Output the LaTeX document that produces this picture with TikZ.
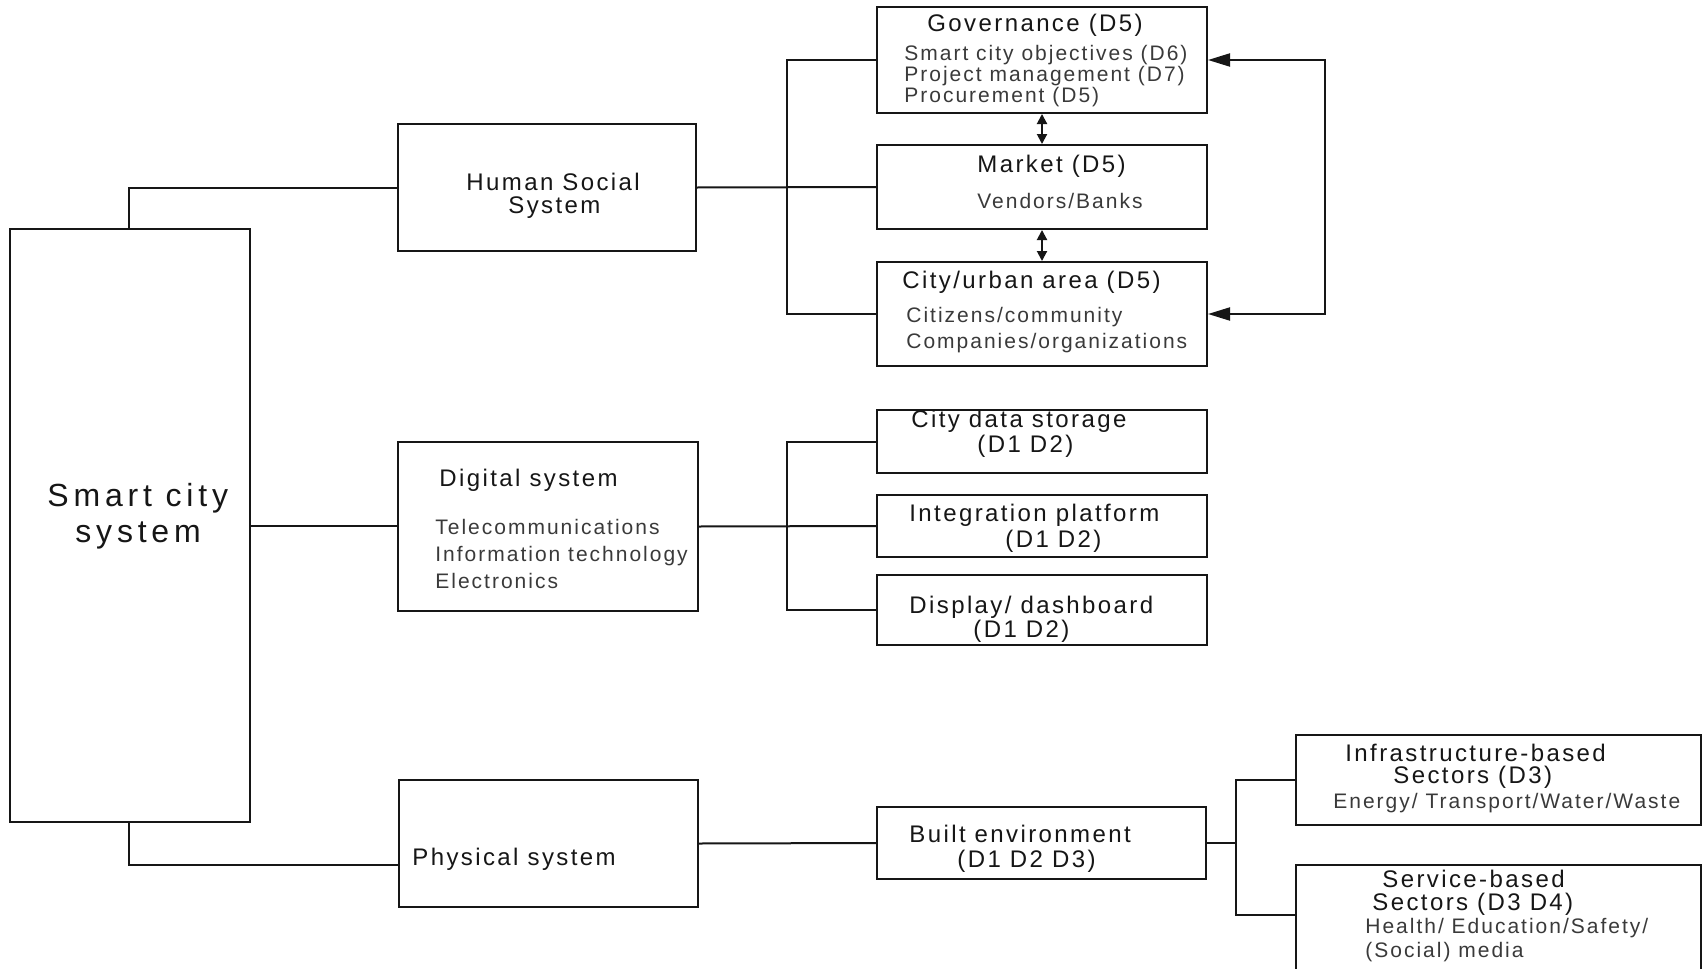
\documentclass[tikz,border=0pt]{standalone}
\usepackage{fontspec}
\usetikzlibrary{arrows.meta}
\newfontfamily\scTitle[LetterSpace=10]{Liberation Sans}
\newfontfamily\scItem[LetterSpace=9.5]{Liberation Sans}
\newfontfamily\scMain[LetterSpace=15]{Liberation Sans}
\definecolor{ink}{HTML}{161616}
\definecolor{itemink}{HTML}{3A3A3A}
% box given by its corners (x1,y1) and (x2,y2), in pixel units
\newcommand\mkbox[5]{\node[box, minimum width={(#4-#2)*0.5pt}, minimum height={(#5-#3)*0.5pt}] (#1) at ({(#2+#4)/2},{(#3+#5)/2}) {};}
\begin{document}
\begin{tikzpicture}[x=0.5pt,y=-0.5pt,
  box/.style={draw=ink, line width=1pt, rectangle, inner sep=0pt, fill=white},
  wire/.style={draw=ink, line width=1pt},
  ttl/.style={anchor=base west, inner sep=0pt, text=ink, font=\scTitle\fontsize{12}{14}\selectfont},
  itm/.style={anchor=base west, inner sep=0pt, text=itemink, font=\scItem\fontsize{10.5}{12.5}\selectfont},
  hdl/.style={anchor=base west, inner sep=0pt, text=ink, font=\scMain\fontsize{16}{19}\selectfont},
  feed/.style={wire, {Triangle[length=11pt,width=6.5pt]}-{Triangle[length=11pt,width=6.5pt]}},
  mutual/.style={wire, {Triangle[length=5pt,width=5pt]}-{Triangle[length=5pt,width=5pt]}},
]
\useasboundingbox (0,0) rectangle (1703,969);
\fill[white] (0,0) rectangle (1703,969);
\clip (0,0) rectangle (1703,969);

% boxes
\mkbox{smart}{10}{229}{250}{822}
\mkbox{hss}{398}{124}{696}{251}
\mkbox{digital}{398}{442}{698}{611}
\mkbox{physical}{399}{780}{698}{907}
\mkbox{gov}{877}{7}{1207}{113}
\mkbox{market}{877}{145}{1207}{229}
\mkbox{city}{877}{262}{1207}{366}
\mkbox{store}{877}{410}{1207}{473}
\mkbox{integ}{877}{495}{1207}{557}
\mkbox{disp}{877}{575}{1207}{645}
\mkbox{built}{877}{807}{1206}{879}
\mkbox{infra}{1296}{735}{1701}{825}
\mkbox{service}{1296}{865}{1701}{985}

% branching points
\coordinate (hsjoin) at (787,187);
\coordinate (dgjoin) at (787,526);
\coordinate (bejoin) at (1236,843);
\coordinate (fbjoin) at (1325,187);

% connectors
\draw[wire] ([xshift=60pt]smart.north west) |- (hss.west);
\draw[wire] (smart.east) -- (smart.east -| digital.west);
\draw[wire] ([xshift=60pt]smart.south west) |- ([yshift=-10.75pt]physical.west);
\draw[wire] (hss.east) -- (market.west);
\draw[wire] (gov.west) -| (hsjoin) |- (city.west);
\draw[mutual] (gov.south) -- (market.north);
\draw[mutual] (market.south) -- (city.north);
\draw[feed] (gov.east) -| (fbjoin) |- (city.east);
\draw[wire] (digital.east) -- (integ.west);
\draw[wire] (store.west) -| (dgjoin) |- (disp.west);
\draw[wire] (physical.east) -- (built.west);
\draw[wire] (built.east) -- (bejoin);
\draw[wire] (infra.west) -| (bejoin) |- ([yshift=5pt]service.west);

% texts
\node[hdl] (tSmart1) at (47,506) {Smart city};
\node[hdl] (tSmart2) at (75,542) {system};
\node[ttl] (tHss1) at (466,190) {Human Social};
\node[ttl] (tHss2) at (508,213) {System};
\node[ttl] (tGov) at (927,32) {Governance (D5)};
\node[itm] (tGov1) at (904,60) {Smart city objectives (D6)};
\node[itm] (tGov2) at (904,81) {Project management (D7)};
\node[itm] (tGov3) at (904,102) {Procurement (D5)};
\node[ttl] (tMkt) at (977,172) {Market (D5)};
\node[itm] (tMkt1) at (977,208) {Vendors/Banks};
\node[ttl] (tCity) at (902,288) {City/urban area (D5)};
\node[itm] (tCity1) at (906,322) {Citizens/community};
\node[itm] (tCity2) at (906,348) {Companies/organizations};
\node[ttl] (tDig) at (439,486) {Digital system};
\node[itm] (tDig1) at (435,534) {Telecommunications};
\node[itm] (tDig2) at (435,561) {Information technology};
\node[itm] (tDig3) at (435,588) {Electronics};
\node[ttl] (tSto1) at (911,427) {City data storage};
\node[ttl] (tSto2) at (977,452) {(D1 D2)};
\node[ttl] (tInt1) at (909,521) {Integration platform};
\node[ttl] (tInt2) at (1005,547) {(D1 D2)};
\node[ttl] (tDis1) at (909,613) {Display/ dashboard};
\node[ttl] (tDis2) at (973,637) {(D1 D2)};
\node[ttl] (tPhy) at (412,865) {Physical system};
\node[ttl] (tBlt1) at (909,842) {Built environment};
\node[ttl] (tBlt2) at (957,867) {(D1 D2 D3)};
\node[ttl] (tInf1) at (1345,761) {Infrastructure-based};
\node[ttl] (tInf2) at (1393,783) {Sectors (D3)};
\node[itm] (tInf3) at (1333,808) {Energy/ Transport/Water/Waste};
\node[ttl] (tSrv1) at (1382,887) {Service-based};
\node[ttl] (tSrv2) at (1372,910) {Sectors (D3 D4)};
\node[itm] (tSrv3) at (1365,933) {Health/ Education/Safety/};
\node[itm] (tSrv4) at (1365,957) {(Social) media};
\end{tikzpicture}
\end{document}
